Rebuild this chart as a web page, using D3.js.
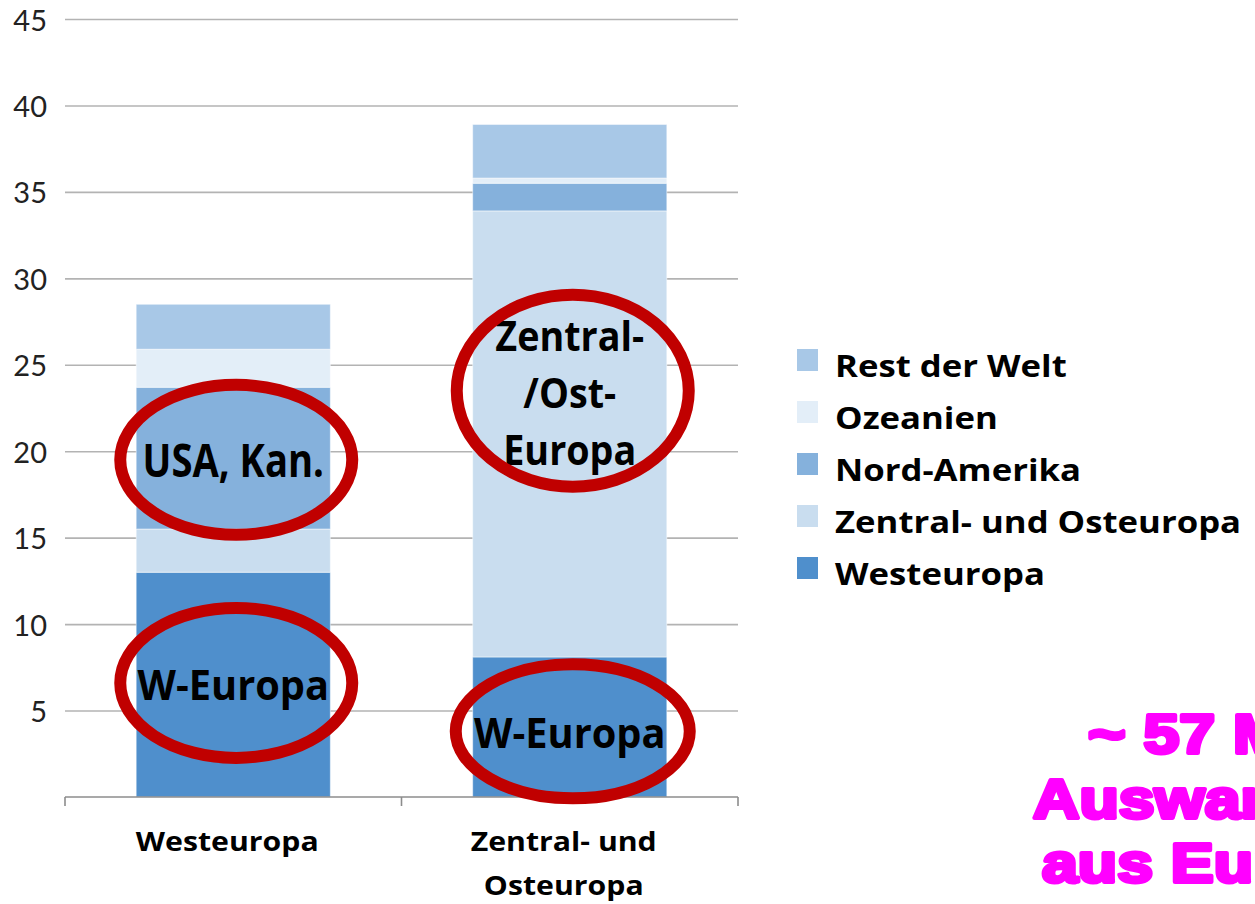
<!DOCTYPE html>
<html>
<head>
<meta charset="utf-8">
<script src="https://cdn.jsdelivr.net/npm/d3@7"></script>
<style>
  html, body { margin: 0; padding: 0; background: #fff; }
  svg { display: block; }
</style>
</head>
<body>
<div id="chart"></div>
<script>
// data (Mio. emigrants by origin region and destination)
var categories = ["Westeuropa", "Zentral- und Osteuropa"];
var categoryLines = [["Westeuropa"], ["Zentral- und", "Osteuropa"]];
var seriesNames = ["Westeuropa", "Zentral- und Osteuropa", "Nord-Amerika", "Ozeanien", "Rest der Welt"];
var westeuropa = [13.0, 8.1];
var zentralOst = [2.5, 25.8];
var nordAmerika = [8.2, 1.6];
var ozeanien = [2.2, 0.3];
var restDerWelt = [2.6, 3.1];
var yTicks = [5, 10, 15, 20, 25, 30, 35, 40, 45];

// red circled annotations: category, value at centre, text lines
var notes = [
  {cat: "Westeuropa", v: 19.5, lines: ["USA, Kan."], rx: 116, ry: 75, fs: 46, sx: 0.83},
  {cat: "Westeuropa", v: 6.6, lines: ["W-Europa"], rx: 116, ry: 75, fs: 41, sx: 0.97},
  {cat: "Zentral- und Osteuropa", v: 23.5, lines: ["Zentral-", "/Ost-", "Europa"], rx: 116, ry: 96, fs: 41, sx: 0.92},
  {cat: "Zentral- und Osteuropa", v: 3.8, lines: ["W-Europa"], rx: 117, ry: 67, fs: 41, sx: 0.97}
];
var bigNote = ["~ 57 Mio.", "Auswanderer", "aus Europa"];

var W = 1255, H = 904;
var margin = {top: 19, left: 65, right: 517, bottom: 107};
var width = W - margin.left - margin.right,
    height = H - margin.top - margin.bottom;
var FONT = "'Open Sans', Lato, sans-serif";

var svg = d3.select("#chart").append("svg")
  .attr("width", W).attr("height", H);
var g = svg.append("g")
  .attr("transform", "translate(" + margin.left + "," + margin.top + ")");

var x = d3.scaleBand().domain(categories).range([0, width]).padding(0);
var y = d3.scaleLinear().domain([0, 45]).range([height, 0]);
var z = d3.scaleOrdinal()
  .domain(seriesNames)
  .range(["#4f8fcc", "#c9ddef", "#85b1dc", "#e3eef8", "#a8c8e7"]);

var barW = x.bandwidth() * 0.577;

// gridlines + y labels
var yAxis = d3.axisLeft(y).tickValues(yTicks).tickSize(-width).tickPadding(18);
g.append("g")
  .attr("class", "axis axis--y")
  .call(yAxis)
  .call(function(s) {
    s.select(".domain").remove();
    s.selectAll(".tick line").attr("stroke", "#b3b3b3").attr("stroke-width", 1.6);
    s.selectAll(".tick text")
      .attr("fill", "#222")
      .attr("dy", "0.38em")
      .style("font", "29px Lato, 'Open Sans', sans-serif");
  });

// stacked bars
var rows = categories.map(function(c, i) {
  return {
    cat: c,
    "Westeuropa": westeuropa[i],
    "Zentral- und Osteuropa": zentralOst[i],
    "Nord-Amerika": nordAmerika[i],
    "Ozeanien": ozeanien[i],
    "Rest der Welt": restDerWelt[i]
  };
});
var stacked = d3.stack().keys(seriesNames)(rows);

g.selectAll(".serie")
  .data(stacked)
  .enter().append("g")
    .attr("class", "serie")
    .attr("fill", function(d) { return z(d.key); })
  .selectAll("rect")
  .data(function(d) { return d; })
  .enter().append("rect")
    .attr("x", function(d) { return x(d.data.cat) + (x.bandwidth() - barW) / 2; })
    .attr("y", function(d) { return y(d[1]); })
    .attr("height", function(d) { return y(d[0]) - y(d[1]); })
    .attr("width", barW)
    .attr("stroke", "#fff")
    .attr("stroke-opacity", 0.5)
    .attr("stroke-width", 1);

// x axis line and ticks
var xa = g.append("g").attr("transform", "translate(0," + height + ")");
xa.append("line").attr("x1", 0).attr("x2", width)
  .attr("stroke", "#8c8c8c").attr("stroke-width", 1.6);
xa.selectAll(".xtick")
  .data(categories.map(function(c) { return x(c); }).concat([width]))
  .enter().append("line")
    .attr("x1", function(d) { return d; }).attr("x2", function(d) { return d; })
    .attr("y1", 0).attr("y2", 9)
    .attr("stroke", "#8c8c8c").attr("stroke-width", 1.6);

xa.selectAll(".xlabel")
  .data(categories)
  .enter().append("g")
    .attr("transform", function(d) { return "translate(" + (x(d) + x.bandwidth() / 2 - 6) + ",54)"; })
  .append("text")
    .attr("text-anchor", "middle")
    .attr("transform", "scale(1.12,1)")
    .style("font", "bold 27px " + FONT)
    .attr("fill", "#000")
    .each(function(d, i) {
      var t = d3.select(this);
      categoryLines[i].forEach(function(l, j) {
        t.append("tspan").attr("x", 0).attr("y", j * 44).text(l);
      });
    });

// annotations
var ann = g.selectAll(".note")
  .data(notes)
  .enter().append("g")
    .attr("class", "note")
    .attr("transform", function(d) {
      return "translate(" + (x(d.cat) + x.bandwidth() / 2 + 3) + "," + y(d.v) + ")";
    });

ann.append("text")
  .attr("text-anchor", "middle")
  .attr("fill", "#000")
  .attr("transform", function(d) { return "scale(" + d.sx + ",1)"; })
  .style("font-family", FONT)
  .style("font-weight", "bold")
  .style("font-size", function(d) { return d.fs + "px"; })
  .each(function(d) {
    var t = d3.select(this);
    var n = d.lines.length;
    d.lines.forEach(function(l, j) {
      t.append("tspan").attr("x", -3 / d.sx)
        .attr("y", (j - (n - 1) / 2) * 57 + 17)
        .text(l);
    });
  });

ann.append("ellipse")
  .attr("rx", function(d) { return d.rx; })
  .attr("ry", function(d) { return d.ry; })
  .attr("fill", "none")
  .attr("stroke", "#c00000")
  .attr("stroke-width", 12);

// legend (reverse order, top = last series)
var legend = svg.selectAll(".legend")
  .data(seriesNames.slice().reverse())
  .enter().append("g")
    .attr("class", "legend")
    .attr("transform", function(d, i) { return "translate(797," + (349 + i * 52) + ")"; });

legend.append("rect")
  .attr("width", 21).attr("height", 22)
  .attr("fill", z);

legend.append("text")
  .attr("transform", "translate(38,28) scale(1.12,1)")
  .style("font", "bold 31px " + FONT)
  .attr("fill", "#000")
  .text(function(d) { return d; });

// big magenta note, cut off by the right edge like in the original
var bs = 1.15;
var big = svg.append("text")
  .attr("transform", "scale(" + bs + ",1)")
  .attr("fill", "#ff00ff")
  .attr("stroke", "#ff00ff")
  .attr("stroke-width", 4)
  .attr("stroke-linejoin", "round")
  .style("font", "bold 56px 'Liberation Sans', Arial, sans-serif");
var bigX = [1088, 1033, 1042], bigY = [753, 818, 882];
bigNote.forEach(function(l, j) {
  big.append("tspan").attr("x", bigX[j] / bs).attr("y", bigY[j]).text(l);
});
</script>
</body>
</html>
